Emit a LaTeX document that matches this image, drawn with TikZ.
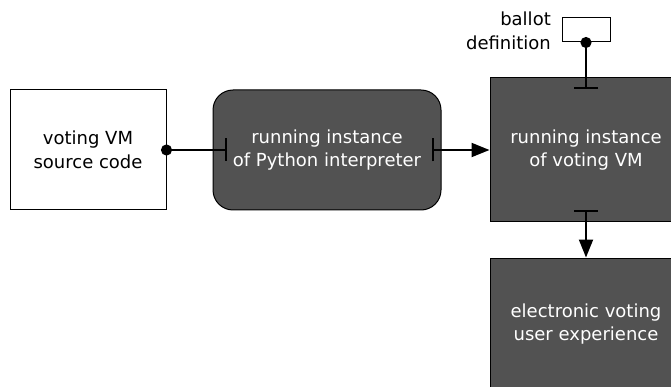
\documentclass[tikz,border=0pt]{standalone}
\usepackage{fontspec}
\setmainfont{DejaVu Sans}
\usetikzlibrary{arrows.meta}
\definecolor{boxgray}{HTML}{525252}
\begin{document}
\begin{tikzpicture}[x=1pt,y=-1pt,
  every node/.style={font=\fontsize{18}{23.5}\selectfont, align=center, inner sep=0pt},
  whitebox/.style={draw=black, line width=1pt, fill=white, text=black},
  darkbox/.style={draw=black, line width=1pt, fill=boxgray, text=white},
  conn/.style={line width=2pt, black},
  dotstart/.style={shorten <=-5.5pt},
]
\path[use as bounding box, clip] (0,0) rectangle (671,387);
\node[whitebox, minimum width=156pt, minimum height=120pt] (src) at (88,150) {voting VM\\source code};
\node[darkbox, rounded corners=20pt, minimum width=228pt, minimum height=120pt] (py) at (327,150) {running instance\\of Python interpreter};
\node[darkbox, minimum width=192pt, minimum height=144pt] (vm) at (586,150) {running instance\\of voting VM};
\node[darkbox, minimum width=192pt, minimum height=132pt] (ux) at (586,324) {electronic voting\\user experience};
\node[whitebox, minimum width=48pt, minimum height=24pt] (ballot) at (586,30) {};
\node[anchor=east, align=right, text=black] (blabel) at (551,31) {ballot\\definition};

\draw[conn, dotstart, {Circle[length=11pt]}-{Bar[width=23pt]}] (src.east) -- ([xshift=14pt]py.west);
\draw[conn, {Bar[width=23pt]}-{Triangle[length=18pt,width=14pt]}] ([xshift=-10pt]py.east) -- (vm.west);
\draw[conn, dotstart, {Circle[length=11pt]}-{Bar[width=24pt]}] (ballot.south) -- ([yshift=-12pt]vm.north);
\draw[conn, {Bar[width=24pt]}-{Triangle[length=18pt,width=14pt]}] ([yshift=12pt]vm.south) -- (ux.north);
\end{tikzpicture}
\end{document}
